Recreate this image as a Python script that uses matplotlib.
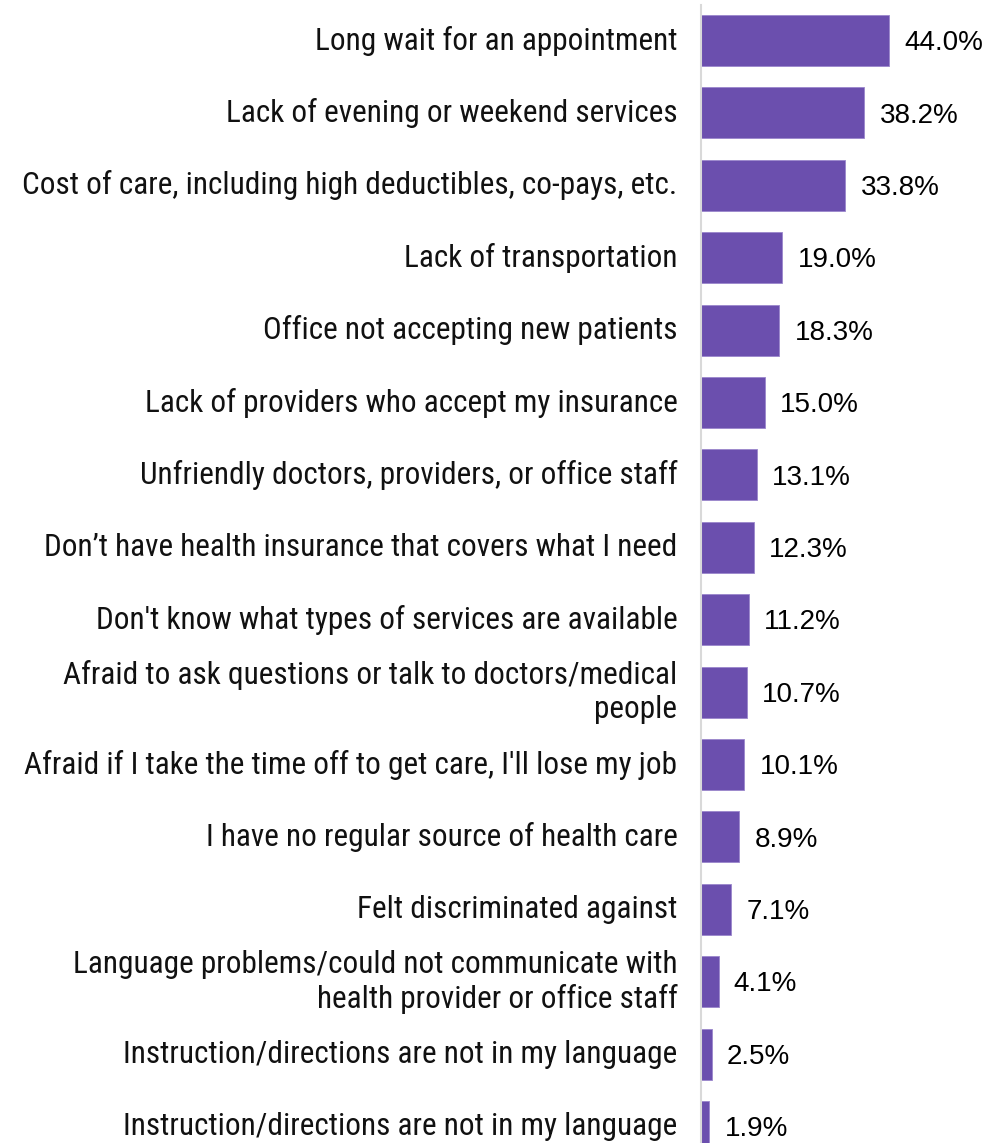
import matplotlib
matplotlib.use("Agg")
import matplotlib.pyplot as plt
from matplotlib import font_manager

categories = [
    "Long wait for an appointment",
    "Lack of evening or weekend services",
    "Cost of care, including high deductibles, co-pays, etc.",
    "Lack of transportation",
    "Office not accepting new patients",
    "Lack of providers who accept my insurance",
    "Unfriendly doctors, providers, or office staff",
    "Don\u2019t have health insurance that covers what I need",
    "Don't know what types of services are available",
    "Afraid to ask questions or talk to doctors/medical\npeople",
    "Afraid if I take the time off to get care, I'll lose my job",
    "I have no regular source of health care",
    "Felt discriminated against",
    "Language problems/could not communicate with\nhealth provider or office staff",
    "Instruction/directions are not in my language",
    "Instruction/directions are not in my language",
]
values = [44.0, 38.2, 33.8, 19.0, 18.3, 15.0, 13.1, 12.3, 11.2, 10.7, 10.1, 8.9, 7.1, 4.1, 2.5, 1.9]

names = {f.name for f in font_manager.fontManager.ttflist}
label_font = ["Liberation Sans Narrow", "Liberation Sans", "DejaVu Sans"] if "Liberation Sans Narrow" in names else ["Roboto Condensed", "Liberation Sans", "DejaVu Sans"]
value_font = ["Liberation Sans", "DejaVu Sans"]

W, H = 1005, 1143
fig = plt.figure(figsize=(W / 100, H / 100), dpi=100)
ax_left = 701 / W
ax_w = 300 / W
ax_top = 5
ax = fig.add_axes([ax_left, 0, ax_w, (H - ax_top) / H])

pitch = 72.4
c0 = 40.5
ymin = (ax_top - c0) / pitch
ymax = (H - c0) / pitch
px_per_unit = 4.27

ypos = list(range(len(values)))
ax.barh(ypos, values, height=51 / pitch, color="#6B4FAE", edgecolor="#9A86CC", linewidth=0.6, zorder=2)
ax.set_xlim(0, 300 / px_per_unit)
ax.set_ylim(ymax, ymin)

for s in ["top", "right", "bottom"]:
    ax.spines[s].set_visible(False)
ax.spines["left"].set_color("#D9D9D9")
ax.spines["left"].set_linewidth(1.5)
ax.spines["left"].set_zorder(3)
ax.set_xticks([])
ax.set_yticks([])

for y, v, c in zip(ypos, values, categories):
    ax.annotate(f"{v:.1f}%", xy=(v, y), xytext=(11, -2), textcoords="offset points",
                ha="left", va="center", fontsize=20, family=value_font, color="#000000")
    ax.annotate(c, xy=(0, y), xytext=(-17, 0), textcoords="offset points",
                ha="right", va="center", fontsize=22.5, family=label_font, color="#111111",
                linespacing=1.22, multialignment="right", annotation_clip=False)

fig.savefig("out.png", dpi=100)
